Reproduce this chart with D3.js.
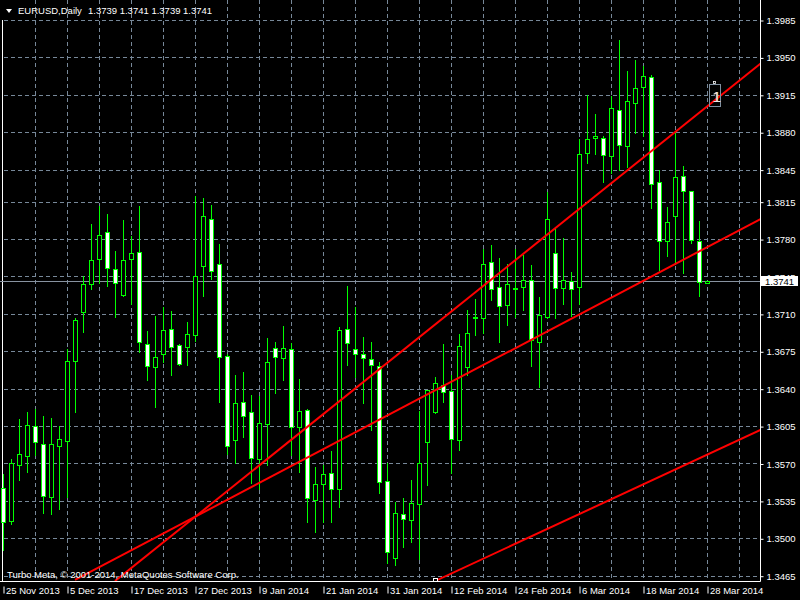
<!DOCTYPE html>
<html>
<head>
<meta charset="utf-8">
<script src="https://cdn.jsdelivr.net/npm/d3@7"></script>
<style>
html,body{margin:0;padding:0;background:#000;}
svg{display:block;}
text{font-family:"Liberation Sans",Arial,sans-serif;}
</style>
</head>
<body>
<svg id="chart" width="800" height="600"></svg>
<script>
// ---- data ----
const symbolTitle = "EURUSD,Daily";
const lastQuote = [1.3739, 1.3741, 1.3739, 1.3741];
const copyright = "Turbo Meta, \u00A9 2001-2014, MetaQuotes Software Corp.";
const dateLabels = ["25 Nov 2013","5 Dec 2013","17 Dec 2013","27 Dec 2013","9 Jan 2014","21 Jan 2014",
  "31 Jan 2014","12 Feb 2014","24 Feb 2014","6 Mar 2014","18 Mar 2014","28 Mar 2014"];
const priceTicks = [1.3985,1.3950,1.3915,1.3880,1.3845,1.3815,1.3780,1.3745,1.3710,1.3675,1.3640,1.3605,1.3570,1.3535,1.3500,1.3465];
const opens  = [1.3547,1.3516,1.3569,1.3577,1.3605,1.3588,1.3539,1.3586,1.3591,1.3666,1.3712,1.3738,1.3761,1.3787,1.3752,1.3728,1.3761,1.3768,1.3682,1.3660,1.3672,1.3696,1.3681,1.3679,1.3690,1.3755,1.3799,1.3757,1.3671,1.3592,1.3628,1.3618,1.3574,1.3607,1.3678,1.3669,1.3677,1.3604,1.3620,1.3536,1.3551,1.3561,1.3546,1.3696,1.3677,1.3672,1.3668,1.3661,1.3554,1.3482,1.3523,1.3517,1.3532,1.3590,1.3618,1.3643,1.3638,1.3592,1.3660,1.3706,1.3706,1.3759,1.3735,1.3718,1.3733,1.3735,1.3742,1.3684,1.3707,1.3767,1.3734,1.3741,1.3735,1.3861,1.3875,1.3875,1.3858,1.3901,1.3867,1.3907,1.3922,1.3932,1.3833,1.3778,1.3802,1.3839,1.3825,1.3778,1.3739];
const highs  = [1.3560,1.3574,1.3612,1.3618,1.3621,1.3614,1.3613,1.3605,1.3677,1.3706,1.3745,1.3794,1.3811,1.3803,1.3769,1.3798,1.3783,1.3811,1.3694,1.3708,1.3716,1.3713,1.3682,1.3702,1.3820,1.3818,1.3812,1.3775,1.3672,1.3653,1.3656,1.3634,1.3633,1.3687,1.3684,1.3699,1.3683,1.3649,1.3621,1.3567,1.3569,1.3582,1.3698,1.3736,1.3716,1.3688,1.3684,1.3665,1.3570,1.3534,1.3538,1.3555,1.3619,1.3639,1.3651,1.3682,1.3653,1.3691,1.3714,1.3724,1.3771,1.3774,1.3762,1.3757,1.3771,1.3765,1.3756,1.3726,1.3824,1.3789,1.3781,1.3749,1.3874,1.3915,1.3897,1.3876,1.3914,1.3966,1.3937,1.3948,1.3942,1.3934,1.3845,1.3810,1.3879,1.3848,1.3825,1.3797,1.3741];
const lows   = [1.3489,1.3513,1.3555,1.3562,1.3578,1.3524,1.3523,1.3527,1.3539,1.3618,1.3693,1.3733,1.3739,1.3736,1.3707,1.3727,1.3719,1.3674,1.3648,1.3623,1.3665,1.3653,1.3662,1.3662,1.3685,1.3727,1.3743,1.3628,1.3579,1.3570,1.3595,1.3552,1.3546,1.3569,1.3636,1.3648,1.3578,1.3562,1.3515,1.3506,1.3515,1.3515,1.3529,1.3662,1.3651,1.3627,1.3601,1.3542,1.3477,1.3475,1.3492,1.3497,1.3481,1.3550,1.3617,1.3628,1.3561,1.3583,1.3653,1.3690,1.3692,1.3723,1.3684,1.3700,1.3707,1.3714,1.3661,1.3642,1.3706,1.3706,1.3719,1.3708,1.3719,1.3851,1.3860,1.3833,1.3842,1.3845,1.3847,1.3879,1.3876,1.3809,1.3751,1.3764,1.3757,1.3748,1.3776,1.3727,1.3739];
const closes = [1.3515,1.3570,1.3579,1.3606,1.3590,1.3540,1.3588,1.3593,1.3666,1.3704,1.3738,1.3760,1.3784,1.3753,1.3739,1.3760,1.3767,1.3684,1.3661,1.3670,1.3695,1.3679,1.3663,1.3691,1.3745,1.3802,1.3750,1.3670,1.3586,1.3627,1.3614,1.3575,1.3608,1.3665,1.3670,1.3678,1.3604,1.3619,1.3538,1.3551,1.3560,1.3546,1.3695,1.3683,1.3672,1.3669,1.3662,1.3553,1.3487,1.3524,1.3518,1.3533,1.3570,1.3639,1.3645,1.3637,1.3593,1.3680,1.3692,1.3707,1.3757,1.3733,1.3717,1.3738,1.3734,1.3742,1.3686,1.3709,1.3799,1.3734,1.3742,1.3733,1.3860,1.3874,1.3876,1.3859,1.3903,1.3868,1.3909,1.3921,1.3933,1.3832,1.3778,1.3796,1.3838,1.3825,1.3779,1.3740,1.3741];
// trend lines: [bar index, price] anchor pairs (rays to the right)
const trendA = [[14,1.3460],[94,1.3940]];
const trendB = [[9,1.3461],[94,1.3796]];
const trendC = [[54,1.3460],[94,1.3599]];
const bidPrice = 1.3741;

// ---- layout ----
const svg = d3.select("#chart");
const plotRight = 760.5, plotBottom = 581.5;
const x = d3.scaleLinear().domain([0, 88]).range([3, 707]);
const y = d3.scaleLinear().domain([1.3465, 1.3985]).range([575.7, 20]);
const gridColor = "#778899";
const candleColor = "#00ff00";

svg.append("rect").attr("width",800).attr("height",600).attr("fill","#000");
svg.append("defs").append("clipPath").attr("id","plotclip")
  .append("rect").attr("x",0).attr("y",0).attr("width",760).attr("height",581);

// grid
const grid = svg.append("g");
priceTicks.forEach(p=>{
  const yy = Math.round(y(p)) + 0.5;
  grid.append("line").attr("x1",4).attr("x2",760).attr("y1",yy).attr("y2",yy)
    .attr("stroke",gridColor).attr("stroke-dasharray","4,3");
});
for (let i = 4; x(i) < 760; i += 4) {
  const xx = Math.round(x(i)) + 0.5;
  grid.append("line").attr("x1",xx).attr("x2",xx).attr("y1",0).attr("y2",581)
    .attr("stroke",gridColor).attr("stroke-dasharray","4,3");
}

// left white line
svg.append("line").attr("x1",2.5).attr("x2",2.5).attr("y1",20).attr("y2",581)
  .attr("stroke","#fff");

// bid line
const bidY = Math.round(y(bidPrice)) + 0.5;
svg.append("line").attr("x1",0).attr("x2",760).attr("y1",bidY).attr("y2",bidY)
  .attr("stroke","#8893a0");

// candles
const cg = svg.append("g").attr("clip-path","url(#plotclip)");
opens.forEach((o,i)=>{
  const c = closes[i], h = highs[i], l = lows[i];
  const cx = Math.round(x(i));
  cg.append("line").attr("x1",cx+0.5).attr("x2",cx+0.5)
    .attr("y1",Math.round(y(h))).attr("y2",Math.round(y(l))+1)
    .attr("stroke",candleColor);
  const yt = Math.round(y(Math.max(o,c))), yb = Math.round(y(Math.min(o,c)));
  if (yb - yt < 1) {
    cg.append("line").attr("x1",cx-2).attr("x2",cx+3).attr("y1",yt+0.5).attr("y2",yt+0.5)
      .attr("stroke",candleColor);
  } else {
    cg.append("rect").attr("x",cx-1.5).attr("y",yt+0.5).attr("width",4).attr("height",yb-yt)
      .attr("fill", c >= o ? "#000" : "#fff").attr("stroke",candleColor);
  }
});

// trend lines
const tg = svg.append("g").attr("clip-path","url(#plotclip)");
[trendA, trendB, trendC].forEach(t=>{
  const [[i1,p1],[i2,p2]] = t;
  const slope = (p2-p1)/(i2-i1);
  const iEnd = 100;
  tg.append("line").attr("x1",x(i1)).attr("y1",y(p1))
    .attr("x2",x(iEnd)).attr("y2",y(p1 + slope*(iEnd-i1)))
    .attr("stroke","#ff0000").attr("stroke-width",2);
});
// selection marker at start of lower trend line
svg.append("rect").attr("x",Math.round(x(trendC[0][0]))-1.5).attr("y",578.5).attr("width",4).attr("height",3)
  .attr("fill","#000").attr("stroke","#fff");

// "1" label object
const lblX = 709.5, lblY = 84.5;
svg.append("rect").attr("x",lblX).attr("y",lblY).attr("width",11).attr("height",22)
  .attr("fill","none").attr("stroke","#8090a0");
svg.append("text").attr("x",lblX+2.6).attr("y",lblY+17).attr("font-size",15)
  .attr("fill","#d08040").text("1");
svg.append("text").attr("x",lblX+3.2).attr("y",lblY+17).attr("font-size",15)
  .attr("fill","#e8e8e8").text("1");
svg.append("rect").attr("x",713.5).attr("y",81.5).attr("width",2).attr("height",2)
  .attr("fill","none").attr("stroke","#fff").attr("stroke-width",0.8);

// axes frame
svg.append("line").attr("x1",0).attr("x2",plotRight).attr("y1",plotBottom).attr("y2",plotBottom).attr("stroke","#fff");
svg.append("line").attr("x1",plotRight).attr("x2",plotRight).attr("y1",0).attr("y2",plotBottom).attr("stroke","#fff");

// price axis
const yAxis = d3.axisRight(y).tickValues(priceTicks).tickSize(3).tickPadding(3)
  .tickFormat(d3.format(".4f"));
const yg = svg.append("g").attr("transform",`translate(${plotRight},0.5)`).call(yAxis);
yg.select(".domain").remove();
yg.selectAll(".tick line").attr("stroke","#fff");
yg.selectAll(".tick text").attr("fill","#fff").attr("font-size","9.5px")
  .attr("font-family","Liberation Sans, Arial, sans-serif");

// date axis
const xAxis = d3.axisBottom(x).tickValues(dateLabels.map((d,i)=>i*8))
  .tickSize(0).tickFormat((d,i)=>dateLabels[i]);
const xg = svg.append("g").attr("transform",`translate(0.5,${plotBottom})`).call(xAxis);
xg.select(".domain").remove();
xg.selectAll(".tick text").attr("fill","#fff").attr("font-size","9.5px")
  .attr("font-family","Liberation Sans, Arial, sans-serif")
  .attr("text-anchor","start").attr("x",2).attr("y",6).attr("dy","0.71em");
xg.selectAll(".tick").append("line").attr("x1",0).attr("x2",0).attr("y1",5).attr("y2",12)
  .attr("stroke","#fff");

// bid label
svg.append("rect").attr("x",761).attr("y",276).attr("width",37).attr("height",10).attr("fill","#fff");
svg.append("text").attr("x",765).attr("y",284.5).attr("font-size","9.5px").attr("fill","#000")
  .text(d3.format(".4f")(bidPrice));

// header
svg.append("path").attr("d","M6,9 L12,9 L9,13 Z").attr("fill","#fff");
svg.append("text").attr("x",18).attr("y",14).attr("font-size","9.5px").attr("fill","#fff")
  .text(symbolTitle);
svg.append("text").attr("x",88).attr("y",14).attr("font-size","9.5px").attr("fill","#fff")
  .text(lastQuote.map(d3.format(".4f")).join(" "));

// copyright
svg.append("text").attr("x",7).attr("y",578).attr("font-size","9.5px").attr("fill","#fff")
  .text(copyright);
</script>
</body>
</html>
